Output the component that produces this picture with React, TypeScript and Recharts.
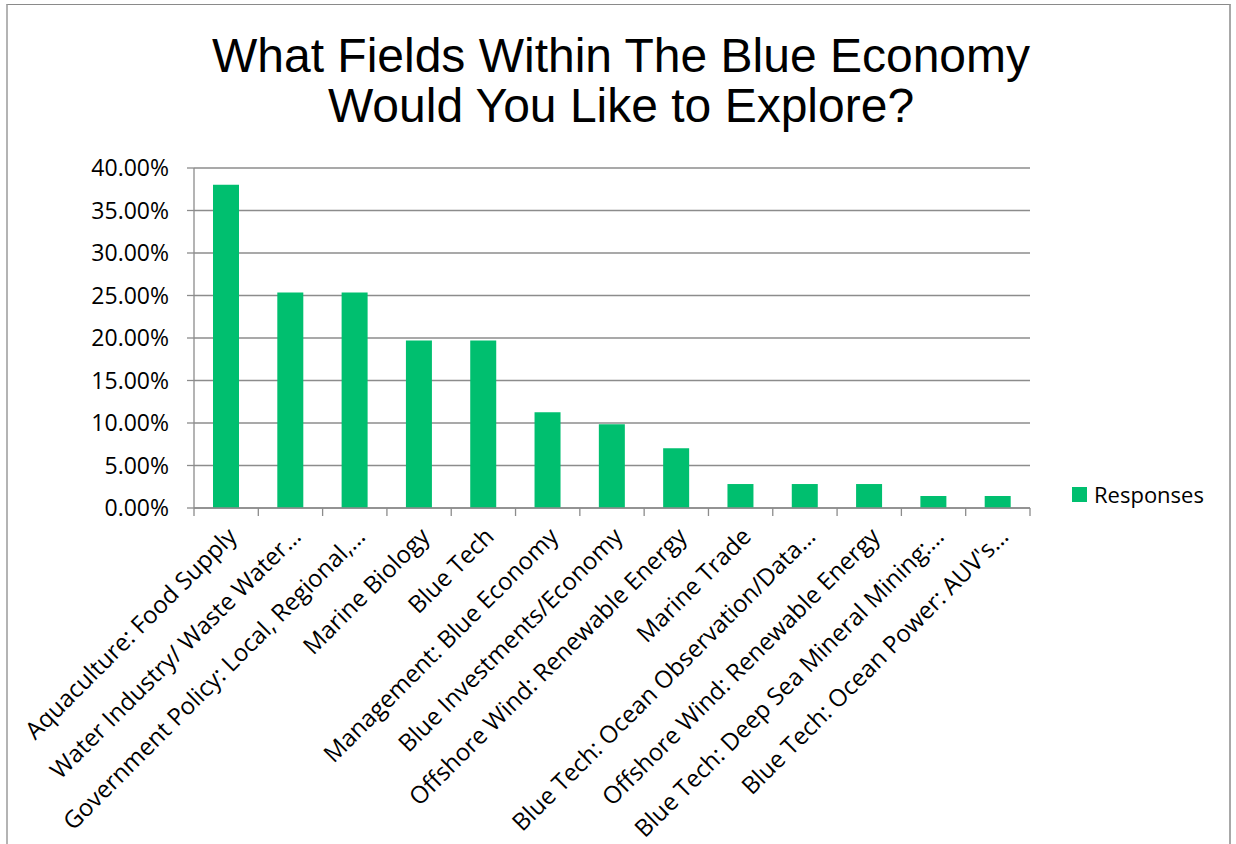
import React from 'react';
import { BarChart, Bar, XAxis, YAxis, CartesianGrid, Legend } from 'recharts';

const categories: string[] = [
  'Aquaculture: Food Supply',
  'Water Industry/ Waste Water…',
  'Government Policy: Local, Regional,…',
  'Marine Biology',
  'Blue Tech',
  'Management: Blue Economy',
  'Blue Investments/Economy',
  'Offshore Wind: Renewable Energy',
  'Marine Trade',
  'Blue Tech: Ocean Observation/Data…',
  'Offshore Wind: Renewable Energy ',
  'Blue Tech: Deep Sea Mineral Mining:…',
  "Blue Tech: Ocean Power: AUV's…",
];

const responses: number[] = [38.03, 25.35, 25.35, 19.72, 19.72, 11.27, 9.86, 7.04, 2.82, 2.82, 2.82, 1.41, 1.41];

const yTicks: number[] = [0, 5, 10, 15, 20, 25, 30, 35, 40];

const titleLines: string[] = ['What Fields Within The Blue Economy', 'Would You Like to Explore?'];
const seriesName = 'Responses';

const data = categories.map((name, i) => ({ name, [seriesName]: responses[i] }));

const W = 1236;
const H = 844;
const MARGIN = { top: 168, right: 206, bottom: 306, left: 0 };
const Y_AXIS_W = 194;
const X_AXIS_H = 30;
const PLOT_W = W - MARGIN.left - MARGIN.right - Y_AXIS_W;
const STEP = PLOT_W / categories.length;

const GREEN = '#00BF6F';
const GRID = '#8c8c8c';
const FONT = '"Open Sans", "Noto Sans", sans-serif';

const XTick = (props: any) => {
  const { x, y, payload, index } = props;
  const isLast = index === categories.length - 1;
  const tx = x + 12;
  const ty = y + 30;
  return (
    <g>
      <line x1={x - STEP / 2} y1={y} x2={x - STEP / 2} y2={y + 8} stroke={GRID} strokeWidth={1.3} />
      {isLast && (
        <line x1={x + STEP / 2} y1={y} x2={x + STEP / 2} y2={y + 8} stroke={GRID} strokeWidth={1.3} />
      )}
      <text
        x={tx}
        y={ty}
        textAnchor="end"
        fill="#000"
        fontSize={24}
        fontFamily={FONT}
        transform={`rotate(-45, ${tx}, ${ty})`}
      >
        {payload.value}
      </text>
    </g>
  );
};

const LegendContent = () => (
  <div style={{ display: 'flex', alignItems: 'center', fontFamily: FONT, fontSize: 22, color: '#000' }}>
    <div style={{ width: 15, height: 15, background: GREEN, marginRight: 7 }} />
    <span>{seriesName}</span>
  </div>
);

export default function App() {
  return (
    <div style={{ position: 'absolute', left: 0, top: 0, width: W, height: H, overflow: 'hidden', background: '#fff' }}>
      <div
        style={{
          position: 'absolute',
          left: 6,
          top: 4,
          width: 1225,
          height: 900,
          borderTop: '1px solid #8a8a8a',
          borderLeft: '2px solid #b4b4b4',
          borderRight: '2px solid #a8a8a8',
          boxSizing: 'border-box',
        }}
      />
      <div
        style={{
          position: 'absolute',
          left: 0,
          top: 31,
          width: 1242,
          textAlign: 'center',
          fontFamily: '"Liberation Sans", Arial, sans-serif',
          fontSize: 48,
          lineHeight: '50px',
          color: '#000',
        }}
      >
        {titleLines.map((t) => (
          <div key={t}>{t}</div>
        ))}
      </div>
      <div style={{ position: 'absolute', left: 0, top: 0 }}>
        <BarChart width={W} height={H} data={data} margin={MARGIN} style={{ fontFamily: FONT }}>
          <CartesianGrid horizontal vertical={false} stroke={GRID} strokeWidth={1.3} />
          <XAxis
            dataKey="name"
            interval={0}
            height={X_AXIS_H}
            tickSize={0}
            tickMargin={0}
            tickLine={false}
            axisLine={{ stroke: GRID, strokeWidth: 1.3 }}
            tick={<XTick />}
          />
          <YAxis
            width={Y_AXIS_W}
            domain={[0, 40]}
            ticks={yTicks}
            interval={0}
            tickSize={7}
            tickMargin={18}
            tickLine={{ stroke: GRID, strokeWidth: 1.3 }}
            axisLine={{ stroke: GRID, strokeWidth: 1.3 }}
            tick={{ fill: '#000', fontSize: 23, fontFamily: FONT }}
            tickFormatter={(v: number) => `${v.toFixed(2)}%`}
          />
          <Legend
            layout="horizontal"
            verticalAlign="middle"
            align="center"
            content={<LegendContent />}
            wrapperStyle={{ left: 1072, top: 479, width: 160, height: 30 }}
          />
          <Bar dataKey={seriesName} fill={GREEN} barSize={26} isAnimationActive={false} />
        </BarChart>
      </div>
    </div>
  );
}
